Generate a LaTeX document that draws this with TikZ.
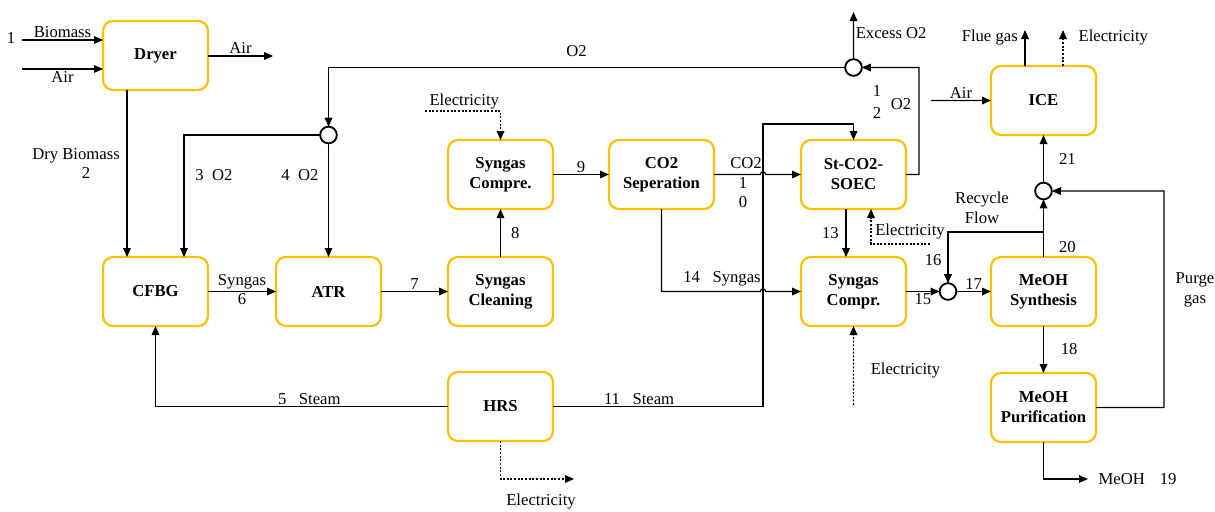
\documentclass[tikz,border=0pt]{standalone}
\usepackage{fontspec}
\setmainfont{Liberation Serif}
\usetikzlibrary{positioning,arrows.meta,calc}

\definecolor{unitgold}{RGB}{255,192,0}

\begin{document}
\begin{tikzpicture}[
  x=0.6pt, y=-0.6pt,
  font=\fontsize{10}{12}\selectfont,
  >={Triangle[length=5.4pt,width=4.6pt]},
  unit/.style={draw=unitgold, line width=1.3pt, rounded corners=6pt, align=center,
               minimum width=63pt, minimum height=41.4pt, inner sep=2pt, outer sep=0pt,
               font=\fontsize{10}{12}\selectfont\bfseries},
  mix/.style={circle, draw=black, line width=1.1pt, minimum size=10pt, inner sep=0pt,
              outer sep=0pt},
  ln/.style={line width=0.7pt, black},
  arr/.style={ln, ->},
  elec/.style={arr, dash pattern=on 1.2pt off 1pt},
  tag/.style={inner sep=1pt},
]
\useasboundingbox (0,0) rectangle (1215,511);

%% ---------- process units ----------
\node[unit] (cfbg) at (155.5,291.5) {CFBG};
\node[unit, above=100.2pt of cfbg] (dryer) {Dryer};
\node[unit, right=40.8pt of cfbg] (atr) {ATR};
\node[unit, right=40.2pt of atr] (clean) {Syngas\\ Cleaning};
\node[unit, above=28.8pt of clean] (compA) {Syngas\\ Compre.};
\node[unit, below=27.6pt of clean] (hrs) {HRS};
\node[unit, right=33.6pt of compA] (co2sep) {CO2\\ Seperation};
\node[unit, right=52.2pt of co2sep] (soec) {St-CO2-\\ SOEC};
\node[unit, below=28.8pt of soec] (compB) {Syngas\\ Compr.};
\node[unit, right=51pt of compB] (synth) {MeOH\\ Synthesis};
\node[unit, below=28.2pt of synth] (purif) {MeOH\\ Purification};
\node[unit, above=73.2pt of synth] (ice) {ICE};

%% mixing / splitting points
\node[mix] (splitO2) at ($(atr.north)+(0,-122)$) {};
\node[mix] (mixO2) at ($(soec.north)+(0,-72.5)$) {};
\node[mix] (mixFeed) at ($(synth.west)+(-43,0)$) {};
\node[mix] (mixFuel) at ($(ice.south)+(0,56)$) {};

%% free ends and bends
\coordinate (bioIn) at (22,40);
\coordinate (airIn) at (22,69);
\coordinate (airOut) at (273,56);
\coordinate (elecA) at (425,111);
\coordinate (riser) at (763,124);
\coordinate (hopA) at (763,174.5);
\coordinate (hopB) at (763,291.5);
\coordinate (o2ret) at (919,67.5);
\coordinate (excess) at (853.5,12);
\coordinate (elecS) at (930,244);
\coordinate (elecB) at (853.5,405);
\coordinate (airIce) at (931,100.5);
\coordinate (flue) at (1025,30);
\coordinate (elecI) at (1063,30);
\coordinate (recyc) at (1043.5,232);
\coordinate (purge) at (1164,191);
\coordinate (meoh) at (1088,479);
\coordinate (elecH) at (574,479);

%% ---------- drying ----------
\node[tag] at (11,38) {1};
\draw[arr] (bioIn) -- (bioIn -| dryer.west) node[midway, above, tag] {Biomass};
\draw[arr] (airIn) -- (airIn -| dryer.west) node[midway, below, tag] {Air};
\draw[arr] (dryer.east |- airOut) -- (airOut) node[midway, above, tag] {Air};
\draw[arr] ([xshift=-17.1pt]dryer.south) -- ([xshift=-17.1pt]cfbg.north)
  node[pos=0.395, left=3pt, tag] {Dry Biomass};
\node[tag] at (86,173) {2};

%% ---------- oxygen ----------
\draw[arr] (mixO2.west) -| (splitO2.north) node[pos=0.26, above=5pt, tag] {O2};
\draw[arr] (splitO2.west) -| ([xshift=17.1pt]cfbg.north)
  node[pos=0.664, right=5.5pt, tag] {3\ \ O2};
\draw[arr] (splitO2.south) -- (atr.north) node[pos=0.28, left=4.7pt, tag] {4\ \ O2};

%% ---------- syngas train ----------
\draw[arr] (cfbg) -- (atr) node[midway, above, tag] {Syngas} node[midway, below, tag] {6};
\draw[arr] (atr) -- (clean) node[midway, above, tag] {7};
\draw[arr] (clean) -- (compA) node[midway, right=5pt, tag] {8};
\draw[arr] (compA) -- (co2sep) node[midway, above, tag] {9};
\draw[elec] (elecA) -| (compA.north) node[pos=0.26, above, tag] {Electricity};

%% CO2 to the electrolyser (hops over the steam riser)
\draw[arr] (co2sep.east) -- ([xshift=-1.6pt]hopA)
  arc[start angle=180, end angle=0, radius=1.6pt] -- (soec.west);
\node[tag] at (746,163) {CO2};
\node[tag] at (743,183) {1};
\node[tag] at (743,202) {0};

%% syngas bypass
\draw[arr] (co2sep.south) |- ([xshift=-1.6pt]hopB)
  arc[start angle=180, end angle=0, radius=1.6pt] -- (compB.west);
\node[tag] at (722,279) {14\ \ \ Syngas};

%% ---------- steam ----------
\draw[arr] (hrs.west) -| node[pos=0.237, above, tag] {5\ \ \ Steam} (cfbg.south);
\draw[arr] (hrs.east) -| node[pos=0.205, above, tag] {11\ \ \ Steam} (riser) -| (soec.north);
\draw[elec] (hrs.south) |- (elecH);
\node[tag] at (541,502) {Electricity};

%% ---------- electrolyser ----------
\draw[arr] ([xshift=-4.5pt]soec.south) -- ([xshift=-4.5pt]compB.north)
  node[midway, left=3pt, tag] {13};
\draw[elec] (elecS) -| ([xshift=10.5pt]soec.south);
\node[tag] at (910,232) {Electricity};
\draw[arr] (soec.east) -| (o2ret) -- (mixO2.east);
\node[tag] at (877,91) {1};
\node[tag] at (877,113) {2};
\node[tag] at (901,104) {O2};
\draw[arr] (mixO2.north) -- (excess) node[pos=0.55, right, tag] {Excess O2};

%% ---------- methanol loop ----------
\draw[arr] (compB) -- (mixFeed) node[midway, below, tag] {15};
\draw[elec] (elecB) -- (compB.south) node[pos=0.44, right=9pt, tag] {Electricity};
\draw[arr] (mixFeed) -- (synth) node[midway, above, tag] {17};
\draw[arr] (recyc) -| (mixFeed.north) node[pos=0.775, left=2.6pt, tag] {16};
\node[tag, align=center] at (982,208) {Recycle\\ Flow};
\draw[arr] (synth) -- (purif) node[midway, right=9pt, tag] {18};
\draw[arr] (purif.south) |- (meoh) node[right=5pt, tag] {MeOH\hspace{9pt}19};
\draw[arr] (synth.north) -- (mixFuel.south) node[pos=0.18, right=8pt, tag] {20};
\draw[arr] (purif.east) -| (purge) -- (mixFuel.east);
\node[tag, align=center] at (1195,290) {Purge\\ gas};

%% ---------- engine ----------
\draw[arr] (mixFuel.north) -- (ice.south) node[midway, right=8pt, tag] {21};
\draw[arr] (airIce) -- (ice.west) node[midway, above, tag] {Air};
\draw[arr] (ice.north -| flue) -- (flue) node[pos=0.78, left=3pt, tag] {Flue gas};
\draw[elec] (ice.north -| elecI) -- (elecI) node[pos=0.78, right=8pt, tag] {Electricity};

\end{tikzpicture}
\end{document}
